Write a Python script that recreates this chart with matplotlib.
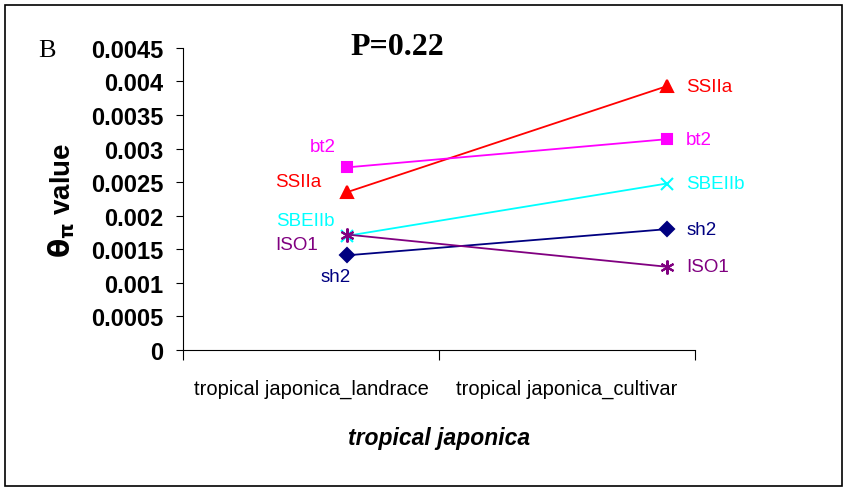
import matplotlib.pyplot as plt
from matplotlib.patches import Rectangle

# data
groups = ['tropical japonica_landrace', 'tropical japonica_cultivar']
x_pos = [0.64, 1.89]          # where the points sit on the 0..2 category axis
genes = ['SSIIa', 'bt2', 'SBEIIb', 'sh2', 'ISO1']
ssiia = [0.00235, 0.00393]
bt2 = [0.00272, 0.00314]
sbeiib = [0.00170, 0.00248]
sh2 = [0.00141, 0.00180]
iso1 = [0.00172, 0.00124]

values = [ssiia, bt2, sbeiib, sh2, iso1]
colors = ['#FF0000', '#FF00FF', '#00FFFF', '#000080', '#800080']
markers = ['^', 's', 'x', 'D', (6, 2, 0)]
msizes = [9, 7, 9, 7, 10]
# label offsets (points) next to the landrace point
left_off = [(-35, 8), (-17, 15), (-30, 11), (-8, -15), (-36, -7)]

plt.rcParams['font.family'] = ['Liberation Sans', 'DejaVu Sans']

fig = plt.figure(figsize=(8.46, 4.89), dpi=100)
ax = fig.add_axes([0.2163, 0.2822, 0.6052, 0.6178])

for name, v, c, m, ms, off in zip(genes, values, colors, markers, msizes, left_off):
    ax.plot(x_pos, v, color=c, marker=m, markersize=ms, linewidth=1.3,
            markeredgewidth=1.5, clip_on=False)
    ax.annotate(name, (x_pos[0], v[0]), xytext=off, textcoords='offset points',
                ha='center', va='center', color=c, fontsize=13.5)
    ax.annotate(name, (x_pos[1], v[1]), xytext=(14, 0), textcoords='offset points',
                ha='left', va='center', color=c, fontsize=13.5)

ax.set_xlim(0, 2)
ax.set_ylim(0, 0.0045)
ax.set_yticks([i * 0.0005 for i in range(10)])
ax.set_yticklabels(['0', '0.0005', '0.001', '0.0015', '0.002', '0.0025',
                    '0.003', '0.0035', '0.004', '0.0045'],
                   fontsize=17, fontweight='bold')
ax.set_xticks([0, 1, 2])
ax.set_xticklabels([])
ax.set_xticks([0.5, 1.5], minor=True)
ax.set_xticklabels(groups, minor=True, fontsize=14.5)
ax.tick_params(axis='x', which='minor', length=0, pad=21)
ax.tick_params(axis='x', which='major', length=7, direction='out')
ax.tick_params(axis='y', length=5, direction='out', pad=9)

for s in ['top', 'right']:
    ax.spines[s].set_visible(False)

ax.set_xlabel('tropical japonica', fontsize=16.5, fontweight='bold', style='italic',
              labelpad=20)
ax.set_ylabel(r'$\mathbf{\theta_\pi}$ value', fontsize=20, fontweight='bold', labelpad=10)

fig.text(0.045, 0.895, 'B', family='Liberation Serif', fontsize=19, va='center')
fig.text(0.47, 0.902, 'P=0.22', family='Liberation Serif', fontsize=23,
         fontweight='bold', ha='center', va='center')

fig.patches.append(Rectangle((0.006, 0.004), 0.989, 0.984, transform=fig.transFigure,
                             fill=False, edgecolor='black', linewidth=1.2))

fig.savefig('out.png', dpi=100)
